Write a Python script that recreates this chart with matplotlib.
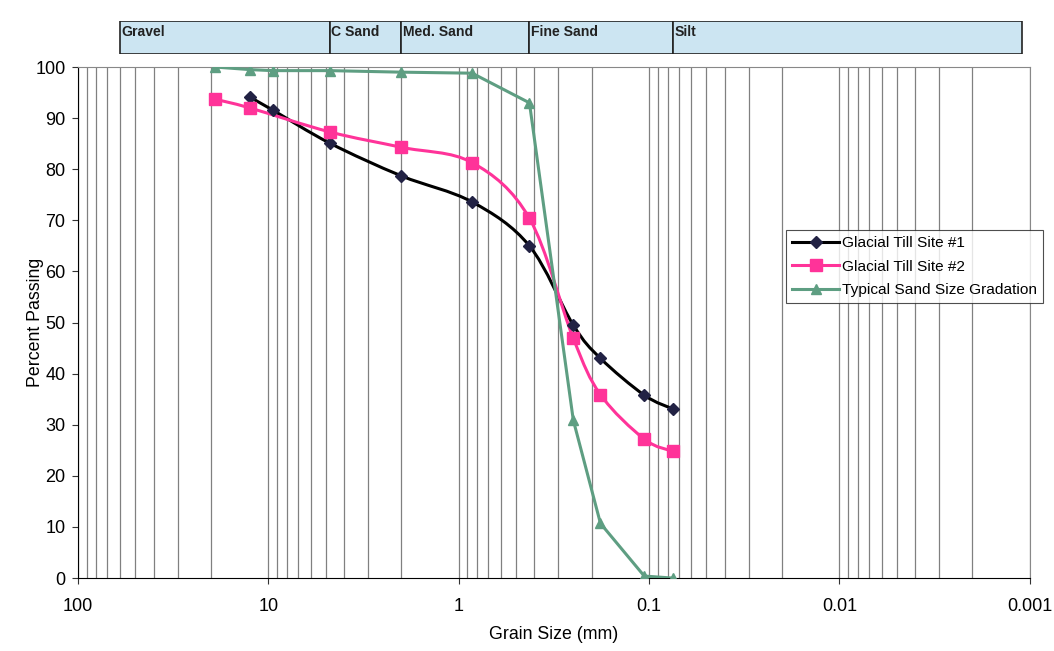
import numpy as np
import matplotlib
matplotlib.use('Agg')
import matplotlib.pyplot as plt
from matplotlib.path import Path
from matplotlib.patches import PathPatch, Rectangle
from matplotlib.lines import Line2D
from matplotlib.ticker import FixedLocator, LogLocator, NullFormatter

plt.rcParams['font.family'] = ['Liberation Sans', 'DejaVu Sans']

# sieve sizes (mm) and percent passing
size_site1 = [12.5, 9.5, 4.75, 2.0, 0.85, 0.425, 0.25, 0.18, 0.106, 0.075]
pass_site1 = [94.1, 91.6, 85.1, 78.7, 73.6, 65.0, 49.5, 43.0, 35.8, 33.1]

size_site2 = [19.0, 12.5, 4.75, 2.0, 0.85, 0.425, 0.25, 0.18, 0.106, 0.075]
pass_site2 = [93.7, 92.0, 87.3, 84.3, 81.3, 70.4, 46.9, 35.9, 27.2, 24.8]

size_sand = [19.0, 12.5, 9.5, 4.75, 2.0, 0.85, 0.425, 0.25, 0.18, 0.106, 0.075]
pass_sand = [100.0, 99.5, 99.3, 99.3, 99.0, 98.8, 93.0, 30.9, 10.7, 0.4, 0.0]

# soil class band on top
band_edges = [60, 4.75, 2.0, 0.425, 0.075, 0.0011]
band_labels = ['Gravel', 'C Sand', 'Med. Sand', 'Fine Sand', 'Silt']


def smooth_path(xs, ys):
    # excel style smoothed line, done in log-x space
    lx = np.log10(xs)
    y = np.asarray(ys, float)
    n = len(lx)
    verts = [(xs[0], y[0])]
    codes = [Path.MOVETO]
    for i in range(n - 1):
        a = max(i - 1, 0)
        b = min(i + 2, n - 1)
        c1 = (lx[i] + (lx[i + 1] - lx[a]) / 6, y[i] + (y[i + 1] - y[a]) / 6)
        c2 = (lx[i + 1] - (lx[b] - lx[i]) / 6, y[i + 1] - (y[b] - y[i]) / 6)
        verts += [(10 ** c1[0], c1[1]), (10 ** c2[0], c2[1]), (xs[i + 1], y[i + 1])]
        codes += [Path.CURVE4] * 3
    return Path(verts, codes)


fig = plt.figure(figsize=(10.54, 6.51), dpi=100)
ax = fig.add_axes([0.074, 0.112, 0.903, 0.785])

c1, c2, c3 = '#000000', '#ff3399', '#5e9e82'

ax.add_patch(PathPatch(smooth_path(size_site1, pass_site1), fill=False,
                       edgecolor=c1, lw=2.2, zorder=3))
ax.plot(size_site1, pass_site1, ls='none', marker='D', ms=6.5,
        color='#222244', zorder=4)

ax.add_patch(PathPatch(smooth_path(size_site2, pass_site2), fill=False,
                       edgecolor=c2, lw=2.2, zorder=3))
ax.plot(size_site2, pass_site2, ls='none', marker='s', ms=8.5, color=c2, zorder=4)

ax.plot(size_sand, pass_sand, color=c3, lw=2.2, marker='^', ms=7, zorder=3)

ax.set_xscale('log')
ax.set_xlim(100, 0.001)
ax.set_ylim(0, 100)
ax.set_yticks(range(0, 101, 10))
ax.xaxis.set_major_locator(FixedLocator([100, 10, 1, 0.1, 0.01, 0.001]))
ax.set_xticklabels(['100', '10', '1', '0.1', '0.01', '0.001'])
ax.xaxis.set_minor_locator(LogLocator(base=10, subs=np.arange(2, 10), numticks=20))
ax.xaxis.set_minor_formatter(NullFormatter())
ax.tick_params(axis='x', which='minor', length=0)
ax.tick_params(axis='both', which='major', direction='out', length=4,
               labelsize=13, color='#333333')
ax.tick_params(axis='x', which='major', pad=10)
ax.tick_params(axis='y', which='major', pad=5)
ax.grid(True, which='both', axis='x', color='#808080', lw=0.9)
ax.set_axisbelow(True)
for s in ['top', 'right']:
    ax.spines[s].set_color('#888888')
ax.set_xlabel('Grain Size (mm)', fontsize=12.8, labelpad=8)
ax.set_ylabel('Percent Passing', fontsize=12.8, labelpad=-6)

handles = [
    Line2D([], [], color=c1, lw=2.2, marker='D', ms=6.5, mfc='#222244', mec='#222244'),
    Line2D([], [], color=c2, lw=2.2, marker='s', ms=8.5),
    Line2D([], [], color=c3, lw=2.2, marker='^', ms=7),
]
leg = fig.legend(handles, ['Glacial Till Site #1', 'Glacial Till Site #2',
                           'Typical Sand Size Gradation'],
                 loc='upper left', bbox_to_anchor=(0.746, 0.647),
                 fontsize=11.1, frameon=True, fancybox=False, borderpad=0.4,
                 handlelength=3.0, handletextpad=0.2, labelspacing=0.62,
                 borderaxespad=0)
leg.get_frame().set_edgecolor('#222222')
leg.get_frame().set_linewidth(0.8)

# class band
bx = fig.add_axes([0.074, 0.917, 0.903, 0.051])
bx.set_xscale('log')
bx.set_xlim(100, 0.001)
bx.set_ylim(0, 1)
bx.axis('off')
for lo, hi, lab in zip(band_edges[:-1], band_edges[1:], band_labels):
    bx.add_patch(Rectangle((lo, 0), hi - lo, 1, facecolor='#cce5f2',
                           edgecolor='#222222', lw=1.2))
    bx.text(lo * 0.985, 0.66, lab, fontsize=10.1, fontweight='bold',
            color='#222222', va='center', ha='left')

fig.savefig('out.png', dpi=100)
